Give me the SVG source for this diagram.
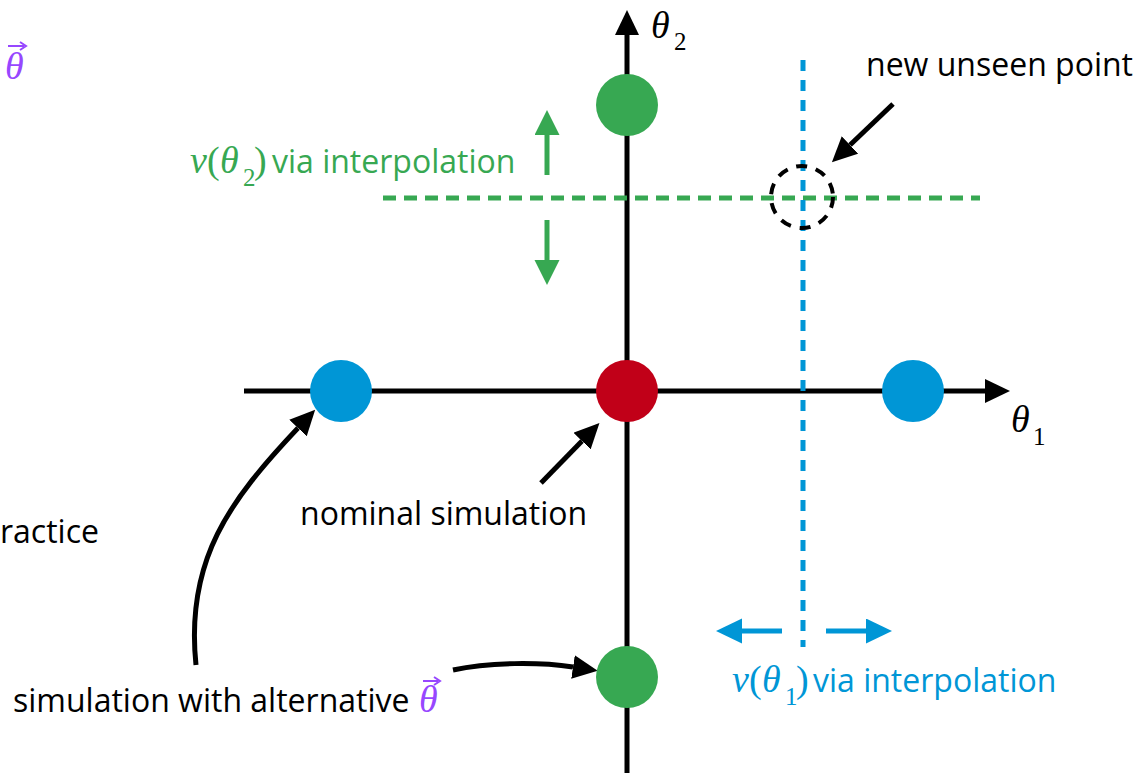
<svg xmlns="http://www.w3.org/2000/svg" width="1139" height="773" viewBox="0 0 1139 773">
  <style>
    .sans { font-family: "Open Sans", "Noto Sans", sans-serif; font-size: 32px; }
    .math { font-family: "Liberation Serif", "DejaVu Serif", serif; font-size: 38px; }
    .it { font-style: italic; }
    .sub { font-family: "Liberation Serif", "DejaVu Serif", serif; font-size: 25px; font-style: normal; }
    .axis { stroke: #000; stroke-width: 5; fill: none; }
    .ann { stroke: #000; stroke-width: 5; fill: none; }
    .g { fill: #37A852; }
    .b { fill: #0096D6; }
    .r { fill: #C10018; }
    .p { fill: #9747FF; }
  </style>
  <defs>
    <marker id="ahK" markerUnits="userSpaceOnUse" markerWidth="26" markerHeight="26" refX="0" refY="12" orient="auto">
      <path d="M0,0 L25,12 L0,24 Z" fill="#000"/>
    </marker>
    <marker id="ahG" markerUnits="userSpaceOnUse" markerWidth="26" markerHeight="26" refX="0" refY="12.5" orient="auto">
      <path d="M0,0 L25,12.5 L0,25 Z" fill="#37A852"/>
    </marker>
    <marker id="ahB" markerUnits="userSpaceOnUse" markerWidth="27" markerHeight="26" refX="0" refY="12.5" orient="auto">
      <path d="M0,0 L26,12.5 L0,25 Z" fill="#0096D6"/>
    </marker>
  </defs>

  <g id="connectors">
    <!-- axes -->
    <line class="axis" x1="627" y1="773" x2="627" y2="35" marker-end="url(#ahK)"/>
    <line class="axis" x1="244" y1="391" x2="985" y2="391" marker-end="url(#ahK)"/>
    <!-- interpolation guides -->
    <line x1="383" y1="198" x2="980" y2="198" stroke="#37A852" stroke-width="5" stroke-dasharray="13 8"/>
    <line x1="803" y1="60" x2="803" y2="647" stroke="#0096D6" stroke-width="5" stroke-dasharray="11 9"/>
    <!-- green interpolation arrows -->
    <line x1="547" y1="175" x2="547" y2="135" stroke="#37A852" stroke-width="5" marker-end="url(#ahG)"/>
    <line x1="547" y1="220" x2="547" y2="260" stroke="#37A852" stroke-width="5" marker-end="url(#ahG)"/>
    <!-- blue interpolation arrows -->
    <line x1="782" y1="631" x2="742" y2="631" stroke="#0096D6" stroke-width="5" marker-end="url(#ahB)"/>
    <line x1="826" y1="631" x2="866" y2="631" stroke="#0096D6" stroke-width="5" marker-end="url(#ahB)"/>
    <!-- annotation arrows -->
    <line class="ann" x1="893" y1="104" x2="850" y2="145" marker-end="url(#ahK)"/>
    <line class="ann" x1="541" y1="483" x2="582" y2="441" marker-end="url(#ahK)"/>
    <path class="ann" d="M196,665 C185,560 230,500 298,428" marker-end="url(#ahK)"/>
    <path class="ann" d="M453,670 C490,662 540,662 573,667" marker-end="url(#ahK)"/>
  </g>

  <g id="unseen-point">
    <circle cx="802" cy="197" r="31" fill="none" stroke="#000" stroke-width="4" stroke-dasharray="11 9"/>
  </g>

  <g id="nominal">
    <circle class="r" cx="627" cy="391" r="31"/>
  </g>
  <g id="alt-top">
    <circle class="g" cx="627" cy="105" r="31"/>
  </g>
  <g id="alt-bottom">
    <circle class="g" cx="627" cy="677" r="31"/>
  </g>
  <g id="alt-left">
    <circle class="b" cx="341" cy="391" r="31"/>
  </g>
  <g id="alt-right">
    <circle class="b" cx="913" cy="391" r="31"/>
  </g>

  <g id="axis-labels">
    <text class="math it" x="651" y="38">θ</text>
    <text class="sub" x="674" y="50">2</text>
    <text class="math it" x="1011" y="432">θ</text>
    <text class="sub" x="1033" y="445">1</text>
  </g>

  <g id="label-theta-vec">
    <text class="math it p" x="5" y="79">θ</text>
    <path d="M8,46 L24,46" stroke="#9747FF" stroke-width="2"/>
    <path d="M20,42 L26,46 L20,50" stroke="#9747FF" stroke-width="2" fill="none"/>
  </g>

  <g id="label-new-unseen">
    <text class="sans" x="866" y="76">new unseen point</text>
  </g>

  <g id="label-nu-theta2">
    <text class="g" y="173"><tspan class="math it" x="190">ν</tspan><tspan class="math" x="207">(</tspan><tspan class="math it" x="220">θ</tspan><tspan class="sub" x="243" y="186">2</tspan><tspan class="math" x="254" y="173">)</tspan><tspan class="sans" x="272">via interpolation</tspan></text>
  </g>

  <g id="label-nu-theta1">
    <text class="b" y="692"><tspan class="math it" x="732">ν</tspan><tspan class="math" x="749">(</tspan><tspan class="math it" x="762">θ</tspan><tspan class="sub" x="785" y="705">1</tspan><tspan class="math" x="796" y="692">)</tspan><tspan class="sans" x="813">via interpolation</tspan></text>
  </g>

  <g id="label-nominal">
    <text class="sans" x="300" y="525">nominal simulation</text>
  </g>

  <g id="label-practice">
    <text class="sans" x="0" y="543">ractice</text>
  </g>

  <g id="label-alternative">
    <text class="sans" x="13" y="712">simulation with alternative</text>
    <text class="math it p" x="419" y="712">θ</text>
    <path d="M423,681 L438,681" stroke="#9747FF" stroke-width="2"/>
    <path d="M434,677 L440,681 L434,685" stroke="#9747FF" stroke-width="2" fill="none"/>
  </g>
</svg>
